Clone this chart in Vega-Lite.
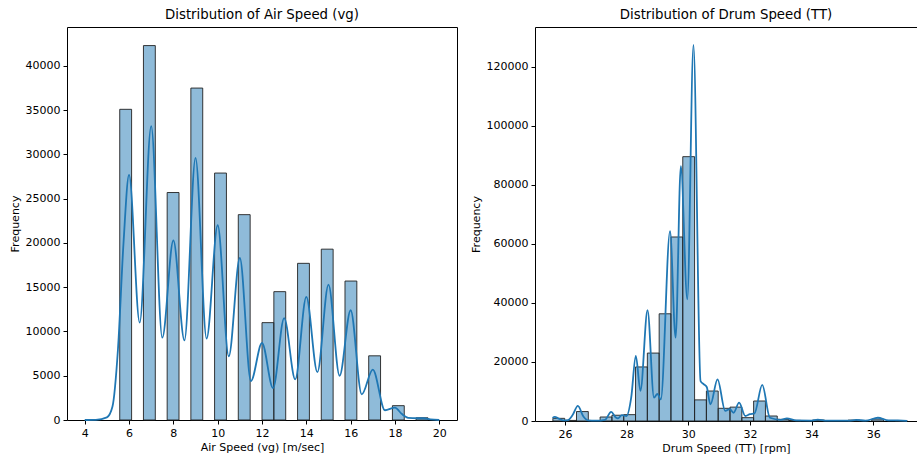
{
  "$schema": "https://vega.github.io/schema/vega-lite/v6.json",
  "padding": {"left": 8, "top": 7, "right": 0, "bottom": 0},
  "spacing": 11,
  "config": {
    "font": "DejaVu Sans",
    "view": {"stroke": "#000000", "strokeWidth": 1},
    "axis": {
      "domain": false,
      "grid": false,
      "ticks": true,
      "tickColor": "#000000",
      "tickSize": 4,
      "labelFontSize": 11,
      "labelFont": "DejaVu Sans",
      "labelColor": "#000000",
      "labelPadding": 3,
      "titleFontSize": 11,
      "titleFont": "DejaVu Sans",
      "titleFontWeight": "normal",
      "titleColor": "#000000"
    },
    "axisX": {"titlePadding": 3},
    "axisY": {"titlePadding": 5},
    "title": {"fontSize": 13.3, "font": "DejaVu Sans", "fontWeight": "normal", "color": "#000000", "offset": 6}
  },
  "datasets": {
    "airBins": [
      {"bin_start": 5.580, "bin_end": 6.115, "count": 35100},
      {"bin_start": 6.650, "bin_end": 7.185, "count": 42300},
      {"bin_start": 7.720, "bin_end": 8.255, "count": 25700},
      {"bin_start": 8.790, "bin_end": 9.325, "count": 37500},
      {"bin_start": 9.860, "bin_end": 10.395, "count": 27900},
      {"bin_start": 10.930, "bin_end": 11.465, "count": 23200},
      {"bin_start": 12.000, "bin_end": 12.535, "count": 11000},
      {"bin_start": 12.535, "bin_end": 13.070, "count": 14500},
      {"bin_start": 13.605, "bin_end": 14.140, "count": 17700},
      {"bin_start": 14.675, "bin_end": 15.210, "count": 19300},
      {"bin_start": 15.745, "bin_end": 16.280, "count": 15700},
      {"bin_start": 16.815, "bin_end": 17.350, "count": 7250},
      {"bin_start": 17.885, "bin_end": 18.420, "count": 1620},
      {"bin_start": 18.955, "bin_end": 19.490, "count": 250}
    ],
    "airKde": [
      {"x": 4.0, "y": 0},
      {"x": 4.5, "y": 20},
      {"x": 5.0, "y": 300},
      {"x": 5.25, "y": 1500},
      {"x": 5.5, "y": 8000},
      {"x": 5.75, "y": 20000},
      {"x": 6.0, "y": 27700},
      {"x": 6.48, "y": 11000},
      {"x": 7.0, "y": 33200},
      {"x": 7.5, "y": 9300},
      {"x": 8.0, "y": 20300},
      {"x": 8.5, "y": 9000},
      {"x": 9.0, "y": 29600},
      {"x": 9.5, "y": 9200},
      {"x": 10.0, "y": 22000},
      {"x": 10.5, "y": 7200},
      {"x": 11.0, "y": 18300},
      {"x": 11.5, "y": 4400},
      {"x": 12.0, "y": 8700},
      {"x": 12.5, "y": 3600},
      {"x": 13.0, "y": 11500},
      {"x": 13.5, "y": 4600},
      {"x": 14.0, "y": 13900},
      {"x": 14.5, "y": 5400},
      {"x": 15.0, "y": 15300},
      {"x": 15.5, "y": 5000},
      {"x": 16.0, "y": 12400},
      {"x": 16.5, "y": 2900},
      {"x": 17.0, "y": 5700},
      {"x": 17.55, "y": 1100},
      {"x": 18.0, "y": 1400},
      {"x": 18.3, "y": 700},
      {"x": 18.6, "y": 250},
      {"x": 19.0, "y": 200},
      {"x": 19.3, "y": 200},
      {"x": 19.6, "y": 80},
      {"x": 20.0, "y": 0}
    ],
    "drumBins": [
      {"bin_start": 25.610, "bin_end": 25.993, "count": 900},
      {"bin_start": 25.993, "bin_end": 26.376, "count": 200},
      {"bin_start": 26.376, "bin_end": 26.759, "count": 3200},
      {"bin_start": 27.142, "bin_end": 27.525, "count": 1350},
      {"bin_start": 27.525, "bin_end": 27.908, "count": 1950},
      {"bin_start": 27.908, "bin_end": 28.291, "count": 2150},
      {"bin_start": 28.291, "bin_end": 28.674, "count": 18300},
      {"bin_start": 28.674, "bin_end": 29.057, "count": 23000},
      {"bin_start": 29.057, "bin_end": 29.440, "count": 36300},
      {"bin_start": 29.440, "bin_end": 29.823, "count": 62300},
      {"bin_start": 29.823, "bin_end": 30.206, "count": 89500},
      {"bin_start": 30.206, "bin_end": 30.589, "count": 7150},
      {"bin_start": 30.589, "bin_end": 30.972, "count": 10150},
      {"bin_start": 30.972, "bin_end": 31.355, "count": 4300},
      {"bin_start": 31.355, "bin_end": 31.738, "count": 4700},
      {"bin_start": 31.738, "bin_end": 32.121, "count": 1130},
      {"bin_start": 32.121, "bin_end": 32.504, "count": 6770},
      {"bin_start": 32.504, "bin_end": 32.887, "count": 1690},
      {"bin_start": 32.887, "bin_end": 33.270, "count": 560},
      {"bin_start": 33.270, "bin_end": 33.653, "count": 200},
      {"bin_start": 34.036, "bin_end": 34.419, "count": 300},
      {"bin_start": 35.185, "bin_end": 35.568, "count": 300},
      {"bin_start": 35.951, "bin_end": 36.334, "count": 650},
      {"bin_start": 36.717, "bin_end": 37.100, "count": 100}
    ],
    "drumKde": [
      {"x": 25.6, "y": 1000},
      {"x": 25.67, "y": 1400},
      {"x": 25.8, "y": 800},
      {"x": 25.95, "y": 200},
      {"x": 26.1, "y": 300},
      {"x": 26.25, "y": 2000},
      {"x": 26.42, "y": 5100},
      {"x": 26.6, "y": 1500},
      {"x": 26.75, "y": 200},
      {"x": 27.0, "y": 100},
      {"x": 27.3, "y": 400},
      {"x": 27.5, "y": 3100},
      {"x": 27.65, "y": 1200},
      {"x": 27.72, "y": 900},
      {"x": 27.85, "y": 2000},
      {"x": 28.0, "y": 1700},
      {"x": 28.15, "y": 7900},
      {"x": 28.3, "y": 22000},
      {"x": 28.45, "y": 10200},
      {"x": 28.68, "y": 37500},
      {"x": 28.89, "y": 7900},
      {"x": 29.0, "y": 9200},
      {"x": 29.11, "y": 7300},
      {"x": 29.41, "y": 64300},
      {"x": 29.59, "y": 28200},
      {"x": 29.76, "y": 86300},
      {"x": 29.97, "y": 41200},
      {"x": 30.17, "y": 127300},
      {"x": 30.4, "y": 13500},
      {"x": 30.51, "y": 12400},
      {"x": 30.6, "y": 11500},
      {"x": 30.72, "y": 5600},
      {"x": 30.95, "y": 14100},
      {"x": 31.2, "y": 3400},
      {"x": 31.35, "y": 4000},
      {"x": 31.47, "y": 2800},
      {"x": 31.65, "y": 6200},
      {"x": 31.85, "y": 1700},
      {"x": 32.0, "y": 2300},
      {"x": 32.15, "y": 2600},
      {"x": 32.4, "y": 12200},
      {"x": 32.65, "y": 1100},
      {"x": 33.0, "y": 400},
      {"x": 33.2, "y": 900},
      {"x": 33.5, "y": 200},
      {"x": 34.0, "y": 150},
      {"x": 34.2, "y": 450},
      {"x": 34.5, "y": 100},
      {"x": 35.2, "y": 100},
      {"x": 35.45, "y": 400},
      {"x": 35.75, "y": 100},
      {"x": 36.15, "y": 1100},
      {"x": 36.5, "y": 200},
      {"x": 36.8, "y": 200},
      {"x": 37.1, "y": 50}
    ]
  },
  "hconcat": [
    {
      "title": "Distribution of Air Speed (vg)",
      "width": 390,
      "height": 393,
      "layer": [
        {
          "data": {"name": "airBins"},
          "mark": {"type": "bar", "fill": "#1f77b4", "fillOpacity": 0.5, "stroke": "#222222", "strokeOpacity": 0.9, "strokeWidth": 1},
          "encoding": {
            "x": {"field": "bin_start", "type": "quantitative", "scale": {"domain": [3.2, 20.8], "nice": false, "zero": false},
                  "axis": {"values": [4, 6, 8, 10, 12, 14, 16, 18, 20], "title": "Air Speed (vg) [m/sec]"}},
            "x2": {"field": "bin_end"},
            "y": {"field": "count", "type": "quantitative", "scale": {"domain": [0, 44400], "nice": false},
                  "axis": {"values": [0, 5000, 10000, 15000, 20000, 25000, 30000, 35000, 40000], "format": "d", "title": "Frequency"}},
            "y2": {"datum": 0}
          }
        },
        {
          "data": {"name": "airKde"},
          "mark": {"type": "line", "color": "#1f77b4", "strokeWidth": 1.8, "interpolate": "monotone"},
          "encoding": {
            "x": {"field": "x", "type": "quantitative"},
            "y": {"field": "y", "type": "quantitative"}
          }
        }
      ]
    },
    {
      "title": "Distribution of Drum Speed (TT)",
      "width": 382,
      "height": 394,
      "layer": [
        {
          "data": {"name": "drumBins"},
          "mark": {"type": "bar", "fill": "#1f77b4", "fillOpacity": 0.5, "stroke": "#222222", "strokeOpacity": 0.9, "strokeWidth": 1},
          "encoding": {
            "x": {"field": "bin_start", "type": "quantitative", "scale": {"domain": [25.03, 37.42], "nice": false, "zero": false},
                  "axis": {"values": [26, 28, 30, 32, 34, 36], "title": "Drum Speed (TT) [rpm]"}},
            "x2": {"field": "bin_end"},
            "y": {"field": "count", "type": "quantitative", "scale": {"domain": [0, 133400], "nice": false},
                  "axis": {"values": [0, 20000, 40000, 60000, 80000, 100000, 120000], "format": "d", "title": "Frequency"}},
            "y2": {"datum": 0}
          }
        },
        {
          "data": {"name": "drumKde"},
          "mark": {"type": "line", "color": "#1f77b4", "strokeWidth": 1.8, "interpolate": "monotone"},
          "encoding": {
            "x": {"field": "x", "type": "quantitative"},
            "y": {"field": "y", "type": "quantitative"}
          }
        }
      ]
    }
  ]
}
